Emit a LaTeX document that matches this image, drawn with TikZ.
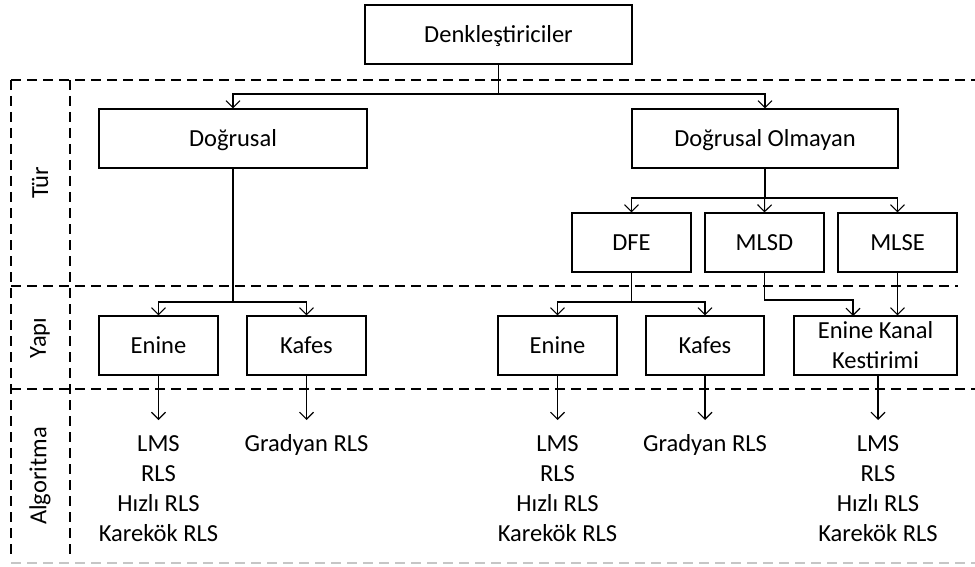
\documentclass[tikz,border=0pt]{standalone}
\usepackage{fontspec}
\setmainfont{Carlito}
\usetikzlibrary{arrows.meta}
\begin{document}
\begin{tikzpicture}[x=1pt,y=-1pt,
  every node/.style={font=\fontsize{24.5}{30}\selectfont},
  box/.style={draw,line width=1.1pt,minimum height=59pt,inner sep=0pt,align=center},
  sbox/.style={box,text height=15.8pt,text depth=0pt},
  arr/.style={line width=1.1pt,-{Straight Barb[length=7pt,width=14pt,line width=1.1pt]}},
  dashln/.style={line width=1.1pt,dash pattern=on 10pt off 6pt},
  lst/.style={align=center,inner sep=0pt,anchor=base}]
\useasboundingbox (0,0) rectangle (975,567);
% dashed frame
\draw[dashln] (11,80) -- (975,80);
\draw[dashln] (11,286) -- (958,286);
\draw[dashln] (11,389) -- (975,389);
\draw[dashln,gray!45] (11,563) -- (975,563);
\draw[dashln] (11,80) -- (11,560);
\draw[dashln] (70,80) -- (70,560);
\node[rotate=90] (ltur) at (40,183) {Tür};
\node[rotate=90] (lyapi) at (40,338) {Yapı};
\node[rotate=90] (lalg) at (40,476) {Algoritma};
% boxes
\node[sbox,minimum width=267pt] (den) at (498.5,34.5) {Denkleştiriciler};
\node[sbox,minimum width=268pt] (dog) at (233,138.5) {Doğrusal};
\node[sbox,minimum width=266pt] (dogo) at (765,138.5) {Doğrusal Olmayan};
\node[sbox,minimum width=119pt] (dfe) at (631.5,242.5) {DFE};
\node[sbox,minimum width=119pt] (mlsd) at (764.5,242.5) {MLSD};
\node[sbox,minimum width=119pt] (mlse) at (897.5,242.5) {MLSE};
\node[sbox,minimum width=119pt] (e1) at (158.5,345.5) {Enine};
\node[sbox,minimum width=119pt] (k1) at (306.5,345.5) {Kafes};
\node[sbox,minimum width=119pt] (e2) at (557.5,345.5) {Enine};
\node[sbox,minimum width=118pt] (k2) at (705,345.5) {Kafes};
\node[box,minimum width=163pt] (ekk) at (875.5,345.5) {Enine Kanal\\Kestirimi};
% connectors
\draw[arr] (den.south) -- (den.south |- 0,94) -| (dog.north);
\draw[arr] (den.south) -- (den.south |- 0,94) -| (dogo.north);
\draw[arr] (dogo.south) -- (dogo.south |- 0,198) -| (dfe.north);
\draw[arr] (dogo.south) -- (mlsd.north);
\draw[arr] (dogo.south) -- (dogo.south |- 0,198) -| (mlse.north);
\draw[arr] (dog.south) -- (dog.south |- 0,302) -| (e1.north);
\draw[arr] (dog.south) -- (dog.south |- 0,302) -| (k1.north);
\draw[arr] (dfe.south) -- (dfe.south |- 0,302) -| (e2.north);
\draw[arr] (dfe.south) -- (dfe.south |- 0,302) -| (k2.north);
\draw[arr] (mlsd.south) -- (mlsd.south |- 0,300) -| (853,316);
\draw[arr] (mlse.south) -- (mlse.south |- ekk.north);
% bottom arrows
\coordinate (t1) at (158.5,420);
\coordinate (t2) at (306.5,420);
\coordinate (t3) at (557.5,420);
\coordinate (t4) at (705,420);
\coordinate (t5) at (878,420);
\coordinate (s5) at (878,375);
\draw[arr] (e1.south) -- (t1);
\draw[arr] (k1.south) -- (t2);
\draw[arr] (e2.south) -- (t3);
\draw[arr] (k2.south) -- (t4);
\draw[arr] (s5) -- (t5);
% lists (base anchor = baseline of last line)
\node[lst] (a1) at (158.5,541) {LMS\\RLS\\Hızlı RLS\\Karekök RLS};
\node[lst] (a2) at (306.5,451) {Gradyan RLS};
\node[lst] (a3) at (557.5,541) {LMS\\RLS\\Hızlı RLS\\Karekök RLS};
\node[lst] (a4) at (705,451) {Gradyan RLS};
\node[lst] (a5) at (878,541) {LMS\\RLS\\Hızlı RLS\\Karekök RLS};
\end{tikzpicture}
\end{document}
